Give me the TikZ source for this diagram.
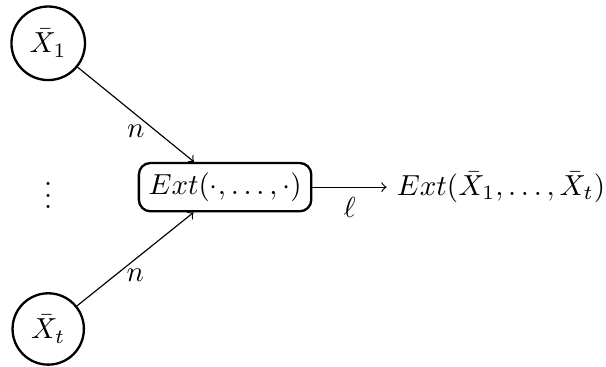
\documentclass[tikz,border=0pt]{standalone}
\usepackage{amsmath,amssymb}
\usepackage{tikz}
\usetikzlibrary{positioning}

\begin{document}
\begin{tikzpicture}[node distance=0.9cm,
  src/.style={circle,draw,thick},
  extbox/.style={rectangle,rounded corners,draw,thick},
  edge/.style={->}]
\useasboundingbox (-2.73,-2.18) rectangle (4.62,2.27);
\node[extbox] (ext) at (0,0) {$Ext(\cdot,\ldots,\cdot)$};
\node[src] (x1) at (-2.145,1.745) {$\bar{X}_1$};
\node (dots) at (-2.145,0) {$\vdots$};
\node[src] (xt) at (-2.145,-1.72) {$\bar{X}_t$};
\node[right=of ext] (out) {$Ext(\bar{X}_1,\ldots,\bar{X}_t)$};
\draw[edge] (x1) -- node[below] {$n$} (ext);
\draw[edge] (xt) -- node[below] {$n$} (ext);
\draw[edge] (ext) -- node[below] {$\ell$} (out);
\end{tikzpicture}
\end{document}
